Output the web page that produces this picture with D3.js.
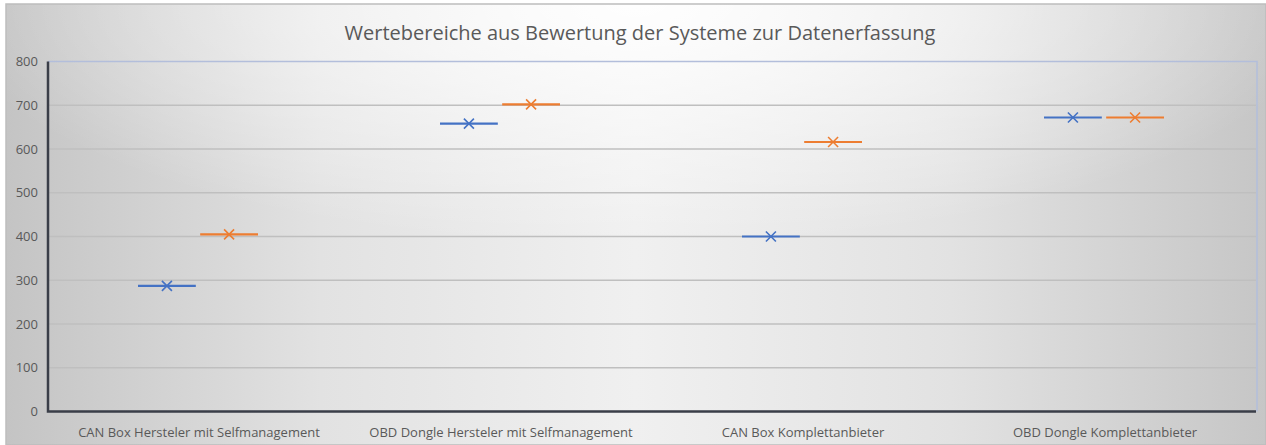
<!DOCTYPE html>
<html>
<head>
<meta charset="utf-8">
<script src="https://cdn.jsdelivr.net/npm/d3@7/dist/d3.min.js"></script>
<style>
  html, body { margin: 0; padding: 0; background: #ffffff; }
  svg { display: block; }
  text { font-family: "Open Sans", "Noto Sans", sans-serif; }
</style>
</head>
<body>
<svg id="chart" width="1266" height="445"></svg>
<script>
// Bewertung der Systeme zur Datenerfassung: Wertebereich je System
const categories = [
  "CAN Box Hersteler mit Selfmanagement",
  "OBD Dongle Hersteler mit Selfmanagement",
  "CAN Box Komplettanbieter",
  "OBD Dongle Komplettanbieter"
];
const seriesNames = ["Untere Bewertung", "Obere Bewertung"];
const lowerScores = [287, 658, 400, 672];
const upperScores = [405, 702, 616, 672];
const yTicks = [0, 100, 200, 300, 400, 500, 600, 700, 800];
const title = "Wertebereiche aus Bewertung der Systeme zur Datenerfassung";
const colors = ["#4472C4", "#ED7D31"];

const W = 1266, H = 445;
const plot = { left: 48, right: 1256, top: 61.5, bottom: 411.5 };
const svg = d3.select("#chart");
const defs = svg.append("defs");

// chart background: grey at the sides, light in the middle, brightest at the top
const bgH = defs.append("linearGradient")
  .attr("id", "bgH").attr("x1", "0%").attr("x2", "100%").attr("y1", "0%").attr("y2", "0%");
bgH.append("stop").attr("offset", "0%").attr("stop-color", "#c4c4c4");
bgH.append("stop").attr("offset", "25%").attr("stop-color", "#e2e2e2");
bgH.append("stop").attr("offset", "50%").attr("stop-color", "#f0f0f0");
bgH.append("stop").attr("offset", "75%").attr("stop-color", "#e2e2e2");
bgH.append("stop").attr("offset", "100%").attr("stop-color", "#c6c6c6");

const bgV = defs.append("radialGradient")
  .attr("id", "bgV").attr("cx", "50%").attr("cy", "0%").attr("r", "55%");
bgV.append("stop").attr("offset", "0%").attr("stop-color", "#ffffff").attr("stop-opacity", 0.95);
bgV.append("stop").attr("offset", "100%").attr("stop-color", "#ffffff").attr("stop-opacity", 0);

svg.append("rect")
  .attr("x", 6).attr("y", 4)
  .attr("width", W - 6).attr("height", H - 4)
  .attr("fill", "url(#bgH)");
svg.append("rect")
  .attr("x", 6).attr("y", 4)
  .attr("width", W - 6).attr("height", H - 4)
  .attr("fill", "url(#bgV)")
  .attr("stroke", "#bdbdbd").attr("stroke-width", 1.5);

// scales
const x = d3.scaleBand().domain(categories).range([plot.left, plot.right]).padding(0);
const y = d3.scaleLinear().domain([0, 800]).range([plot.bottom, plot.top]);
const sub = d3.scaleBand().domain(seriesNames).range([-61, 59]).paddingInner(0.07);

// gridlines
svg.append("g")
  .selectAll("line")
  .data(yTicks.filter(d => d > 0 && d < 800))
  .join("line")
  .attr("x1", plot.left).attr("x2", plot.right)
  .attr("y1", d => y(d)).attr("y2", d => y(d))
  .attr("stroke", "#bfbfbf").attr("stroke-width", 1.5);

// plot area frame (top and right)
svg.append("path")
  .attr("d", `M${plot.left},${plot.top}H${plot.right + 1}V${plot.bottom}`)
  .attr("fill", "none")
  .attr("stroke", "#b3bedb").attr("stroke-width", 1.5);

// y axis labels
const yAxis = d3.axisLeft(y).tickValues(yTicks).tickSize(0).tickPadding(10);
const gy = svg.append("g").attr("transform", `translate(${plot.left},0)`).call(yAxis);
gy.select(".domain").remove();
gy.selectAll("text")
  .attr("fill", "#595959")
  .style("font-size", "13px")
  .attr("x", -10);

// x axis labels
const xAxis = d3.axisBottom(x).tickSize(0).tickPadding(16);
const gx = svg.append("g").attr("transform", `translate(0,${plot.bottom})`).call(xAxis);
gx.select(".domain").remove();
gx.selectAll("text")
  .attr("fill", "#595959")
  .style("font-size", "13px");

// axis lines
svg.append("path")
  .attr("d", `M${plot.left},${plot.top}V${plot.bottom}H${plot.right}`)
  .attr("fill", "none")
  .attr("stroke", "#3a3e48").attr("stroke-width", 2.5);

// boxes (collapsed to a single value) with mean markers
const rows = [];
categories.forEach((c, i) => {
  rows.push({ cat: c, series: seriesNames[0], value: lowerScores[i], color: colors[0] });
  rows.push({ cat: c, series: seriesNames[1], value: upperScores[i], color: colors[1] });
});

const boxes = svg.append("g").selectAll("g")
  .data(rows)
  .join("g")
  .attr("transform", d => `translate(${x(d.cat) + x.bandwidth() / 2 + sub(d.series)},${y(d.value)})`);

boxes.append("line")
  .attr("x1", 0).attr("x2", sub.bandwidth())
  .attr("y1", 0).attr("y2", 0)
  .attr("stroke", d => d.color).attr("stroke-width", 2.2);

const m = 5;
boxes.append("path")
  .attr("d", `M${sub.bandwidth() / 2 - m},${-m}L${sub.bandwidth() / 2 + m},${m}M${sub.bandwidth() / 2 - m},${m}L${sub.bandwidth() / 2 + m},${-m}`)
  .attr("stroke", d => d.color).attr("stroke-width", 1.6).attr("fill", "none");

// title
svg.append("text")
  .attr("x", 640)
  .attr("y", 40)
  .attr("text-anchor", "middle")
  .attr("fill", "#595959")
  .style("font-size", "20px")
  .text(title);
</script>
</body>
</html>
